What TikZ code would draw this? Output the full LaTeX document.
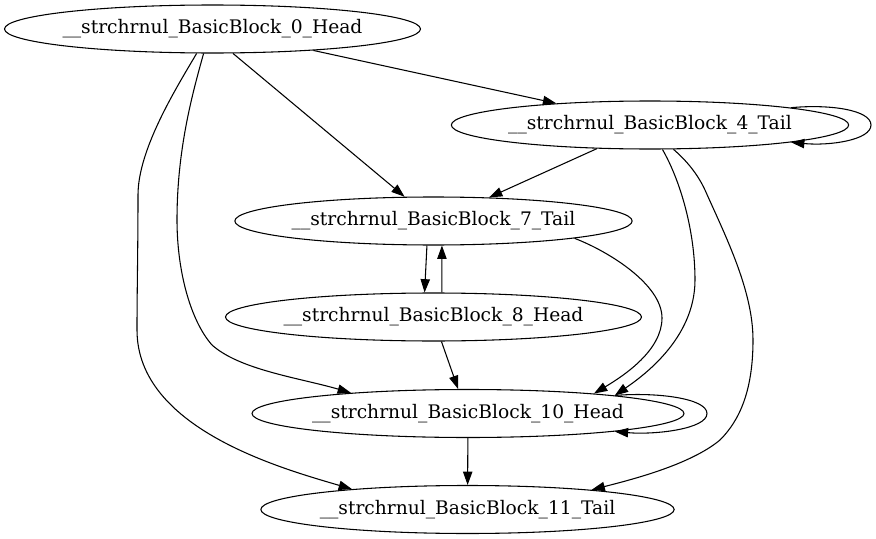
\documentclass[tikz,border=0pt]{standalone}
\usepackage{fontspec}
\setmainfont{DejaVu Serif}
\usetikzlibrary{shapes.geometric,arrows.meta}
\begin{document}
\begin{tikzpicture}[x=0.75pt,y=-0.75pt,
  blk/.style={ellipse,draw,line width=0.8pt,minimum height=36pt,inner sep=0pt,
    font=\fontsize{14pt}{16pt}\selectfont},
  e/.style={draw,line width=0.8pt,-{Triangle[length=10pt,width=7pt]}}]
\useasboundingbox (0,0) rectangle (876,539);
\node[blk,minimum width=312pt] (n0) at (212.5,29) {\makebox[0pt]{\_\_strchrnul\_BasicBlock\_0\_Head}};
\node[blk,minimum width=298pt] (n4) at (650,125) {\makebox[0pt]{\_\_strchrnul\_BasicBlock\_4\_Tail}};
\node[blk,minimum width=298pt] (n7) at (433.5,221) {\makebox[0pt]{\_\_strchrnul\_BasicBlock\_7\_Tail}};
\node[blk,minimum width=312pt] (n8) at (433.5,317) {\makebox[0pt]{\_\_strchrnul\_BasicBlock\_8\_Head}};
\node[blk,minimum width=324pt] (n10) at (468,413.5) {\makebox[0pt]{\_\_strchrnul\_BasicBlock\_10\_Head}};
\node[blk,minimum width=310pt] (n11) at (467.5,509.5) {\makebox[0pt]{\_\_strchrnul\_BasicBlock\_11\_Tail}};
% edges
\draw[e] (n0.-12.9) -- (n4.167.5);
\draw[e] (n0.-50.6) -- (n7.140.2);
\draw[e] (n0.250.5) .. controls (192,95) and (177,150) .. (177,220)
  .. controls (177,270) and (190,320) .. (212,345)
  .. controls (240,370) and (300,378) .. (n10.170.7);
\draw[e] (n0.237) .. controls (175,90) and (138,150) .. (138,195)
  .. controls (138,250) and (137,290) .. (137,330)
  .. controls (137,428) and (280,468) .. (n11.170.5);
\draw[e] (n4.7.2) .. controls (830,104) and (871,110) .. (871,125)
  .. controls (871,140) and (830,146) .. (n4.-7.2);
\draw[e] (n4.204) -- (n7.23.4);
\draw[e] (n4.-63.4) .. controls (680,180) and (695,230) .. (695,280)
  .. controls (695,340) and (640,378) .. (n10.7.9);
\draw[e] (n4.-46) .. controls (688,162) and (698,175) .. (705,190)
  .. controls (725,235) and (753,290) .. (753,340)
  .. controls (753,390) and (740,420) .. (720,440)
  .. controls (690,465) and (630,480) .. (n11.9.3);
\draw[e] (n7.-105) -- (n8.110.6);
\draw[e] (n8.71.6) -- (n7.-71.6);
\draw[e] (n7.-7.1) .. controls (610,252) and (662,285) .. (662,318)
  .. controls (662,350) and (625,375) .. (n10.9.4);
\draw[e] (n8.-72.6) -- (n10.112.6);
\draw[e] (n10.7) .. controls (655,392) and (707,398) .. (707,413.5)
  .. controls (707,429) and (655,435) .. (n10.-7);
\draw[e] (n10) -- (n11);
\end{tikzpicture}
\end{document}
